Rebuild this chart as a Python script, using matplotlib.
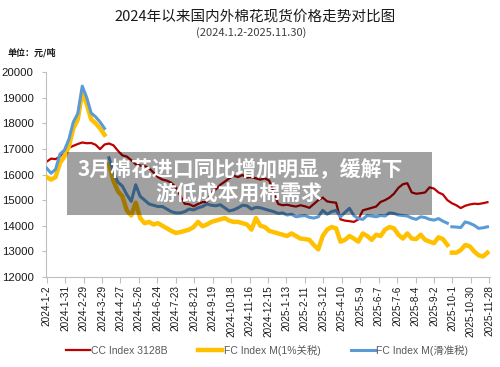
import numpy as np
import pandas as pd
import matplotlib
matplotlib.use("Agg")
import matplotlib.pyplot as plt
import matplotlib.dates as mdates
from matplotlib.patches import Rectangle

plt.rcParams['font.family'] = ['Liberation Sans', 'Noto Sans CJK SC']

# ---- data (weekly readings, 元/吨) ----
dates = pd.date_range("2024-01-02", periods=100, freq="7D")

cc_3128b = [16500, 16620, 16600, 16700, 16940, 17040, 17120, 17190, 17250, 17220,
            17230, 17160, 16990, 17170, 17210, 17140, 16930, 16750, 16700, 16560,
            16400, 16350, 16330, 16250, 16080, 15900, 15800, 15760, 15680, 15500,
            15180, 14860, 14840, 14760, 14850, 14920, 14930, 15280, 15420, 15600,
            15720, 15850, 15950, 15900, 15980, 15880, 15900, 15850, 15800, 15850,
            15760, 15300, 14850, 14800, 14820, 14780, 14750, 14800, 14760, 14700,
            14850, 15000, 15100, 14950, 14920, 14900, 14250, 14200, 14180, 14150,
            14250, 14600, 14650, 14700, 14750, 14930, 15000, 15100, 15250, 15480,
            15620, 15660, 15300, 15250, 15270, 15300, 15500, 15450, 15300, 15220,
            15000, 14880, 14800, 14690, 14780, 14830, 14860, 14850, 14880, 14920]

fc_m_1pct = [15900, 15800, 15900, 16450, 16700, 17100, 17800, 18150, 19200, 18750,
             18150, 18000, 17800, 17550, 16400, 15750, 15350, 15150, 14600, 14400,
             14900, 14300, 14100, 14150, 14050, 14100, 14000, 13900, 13800, 13720,
             13750, 13800, 13850, 13950, 14150, 13980, 14050, 14150, 14200, 14250,
             14300, 14200, 14150, 14150, 14100, 14050, 13850, 14300, 14000, 13950,
             13800, 13750, 13700, 13650, 13600, 13700, 13600, 13500, 13480, 13450,
             13250, 13080, 13600, 13850, 13950, 13900, 13380, 13450, 13600, 13500,
             13380, 13700, 13600, 13450, 13650, 13600, 13850, 13950, 13900, 13650,
             13500, 13700, 13500, 13480, 13650, 13450, 13380, 13320, 13550, 13480,
             13250, 12950, 12950, 13050, 13250, 13200, 13000, 12850, 12800, 12950]

fc_m_sliding = [16250, 16050, 16200, 16800, 16950, 17380, 18050, 18380, 19450, 19000,
                18400, 18250, 18050, 17800, 16650, 16100, 15700, 15550, 15220, 14950,
                15600, 15150, 15000, 14850, 14800, 14750, 14750, 14650, 14550, 14500,
                14500, 14550, 14650, 14620, 14700, 14750, 14850, 14800, 14780, 14820,
                14700, 14580, 14620, 14700, 14800, 14780, 14650, 14720, 14700, 14650,
                14600, 14550, 14480, 14500, 14420, 14450, 14350, 14380, 14400, 14330,
                14300, 14350, 14600, 14450, 14550, 14600, 14350, 14520, 14680, 14400,
                14280, 14250, 14400, 14380, 14350, 14400, 14380, 14500, 14480, 14420,
                14400, 14380, 14300, 14250, 14350, 14320, 14250, 14220, 14280, 14180,
                14100, 13960, 13950, 13930, 14150, 14100, 14020, 13900, 13920, 13960]

fc_breaks = [14, 91]  # FC index series have no quotes between these weeks

series_names = ["CC Index 3128B", "FC Index M(1%关税)", "FC Index M(滑准税)"]
series_colors = ["#C00000", "#FFC000", "#5B9BD5"]
series_widths = [1.6, 3.2, 2.2]

tick_dates = pd.date_range("2024-01-02", "2025-11-28", freq="29D")
y_ticks = np.arange(12000, 20001, 1000)

# ---- figure ----
fig = plt.figure(figsize=(5.0, 3.67), dpi=100)
ax = fig.add_axes([0.092, 0.2452, 0.888, 0.5586])

x = mdates.date2num(dates)
ax.plot(x, cc_3128b, color=series_colors[0], lw=series_widths[0],
        label=series_names[0], solid_joinstyle='round', zorder=2)
for vals, name, col, lw, z in [(fc_m_1pct, series_names[1], series_colors[1], series_widths[1], 3),
                               (fc_m_sliding, series_names[2], series_colors[2], series_widths[2], 4)]:
    segs_x = np.split(x, fc_breaks)
    segs_y = np.split(np.array(vals, dtype=float), fc_breaks)
    for i, (sx, sy) in enumerate(zip(segs_x, segs_y)):
        ax.plot(sx, sy, color=col, lw=lw, solid_joinstyle='round',
                label=name if i == 0 else None, zorder=z)

ax.set_ylim(12000, 20000)
ax.set_yticks(y_ticks)
ax.set_xlim(mdates.date2num(pd.Timestamp("2024-01-01")),
            mdates.date2num(pd.Timestamp("2025-11-29")))
ax.set_xticks(mdates.date2num(tick_dates))
ax.set_xticklabels([f"{d.year}-{d.month}-{d.day}" for d in tick_dates],
                   rotation=90, fontsize=7.2)
for lab in ax.get_yticklabels():
    lab.set_fontsize(8.2)

for s in ["top", "right"]:
    ax.spines[s].set_visible(False)
for s in ["left", "bottom"]:
    ax.spines[s].set_color("#BFBFBF")
    ax.spines[s].set_linewidth(0.8)
ax.tick_params(axis="y", length=3, color="#BFBFBF", pad=6, labelcolor="#1a1a1a")
ax.tick_params(axis="x", length=4, color="#BFBFBF", pad=2, labelcolor="#1a1a1a")

# titles
fig.text(0.51, 0.954, "2024年以来国内外棉花现货价格走势对比图", ha="center", va="center",
         fontsize=10.5, family=["Noto Sans CJK SC"], color="#1a1a1a")
fig.text(0.503, 0.91, "(2024.1.2-2025.11.30)", ha="center", va="center",
         fontsize=8, family=["Noto Sans CJK SC"], color="#404040")
fig.text(0.016, 0.856, "单位：元/吨", ha="left", va="center", fontsize=6.5,
         family=["Noto Sans CJK SC"], fontweight="bold", color="#1a1a1a")

# legend
handles, labels = ax.get_legend_handles_labels()
leg = fig.legend(handles, labels, loc="center", bbox_to_anchor=(0.534, 0.046), ncol=3,
                 frameon=False, fontsize=7.5, handlelength=2.3, handletextpad=0.15,
                 columnspacing=2.9, labelcolor="#595959")

# overlay caption
fig.add_artist(Rectangle((0.134, 0.414), 0.73, 0.172, transform=fig.transFigure,
                         facecolor="black", alpha=0.37, edgecolor="none", zorder=5))
fig.text(0.48, 0.5395, "3月棉花进口同比增加明显，缓解下", ha="center", va="center",
         fontsize=15, fontweight="bold", color="white", family=["Noto Sans CJK SC"], zorder=6)
fig.text(0.477, 0.4714, "游低成本用棉需求", ha="center", va="center",
         fontsize=15, fontweight="bold", color="white", family=["Noto Sans CJK SC"], zorder=6)

fig.savefig("out.png", dpi=100)
